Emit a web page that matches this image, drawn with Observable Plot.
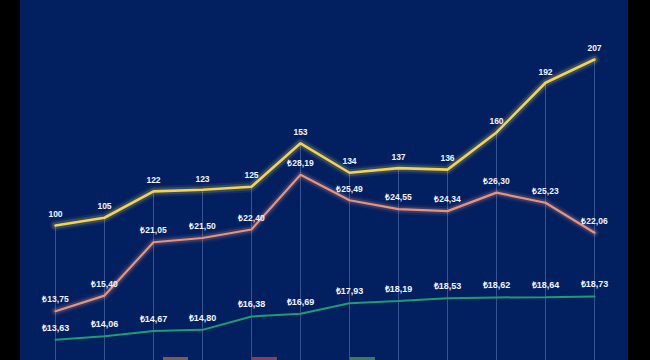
<!DOCTYPE html>
<html><head><meta charset="utf-8">
<script src="https://cdn.jsdelivr.net/npm/d3@7"></script>
<script src="https://cdn.jsdelivr.net/npm/@observablehq/plot@0.6"></script>
<style>
html,body{margin:0;padding:0;background:#000;}
#wrap{position:relative;width:650px;height:360px;overflow:hidden;background:#000;}
#panel{position:absolute;left:20px;top:0;width:608px;height:360px;background:#022060;}
.layer{position:absolute;left:0;top:0;}
#legend{position:absolute;left:0;top:357px;width:650px;height:10px;}
#legend span{position:absolute;top:0;height:6px;width:25px;}
</style></head><body>
<div id="wrap"><div id="panel"></div><div id="legend"></div></div>
<script>
const periods = ["1","2","3","4","5","6","7","8","9","10","11","12"];
const indexValues = [100,105,122,123,125,153,134,137,136,160,192,207];
const orangeValues = [13.75,15.40,21.05,21.50,22.40,28.19,25.49,24.55,24.34,26.30,25.23,22.06];
const greenValues = [13.63,14.06,14.67,14.80,16.38,16.69,17.93,18.19,18.53,18.62,18.64,18.73];
const legendColors = ["#7d5a52","#8a3d55","#3d7a5a"];
const legendLeft = [163,252,350];

const lira = v => "\u20BA" + v.toFixed(2).replace(".", ",");
const wrap = document.getElementById("wrap");

function layer({values, domain, color, glow, width, glowWidth, fmt, fontSize, dy, grid}) {
  const data = periods.map((p, i) => ({p, v: values[i]}));
  const marks = [];
  if (grid) marks.push(Plot.ruleX(data, {x: "p", y1: "v", y2: domain[0], stroke: "#5a76b0", strokeWidth: 0.8, strokeOpacity: 0.75}));
  if (glow) {
    marks.push(Plot.line(data, {x: "p", y: "v", stroke: glow, strokeWidth: glowWidth + 4, strokeOpacity: 0.07, strokeLinejoin: "round"}));
    marks.push(Plot.line(data, {x: "p", y: "v", stroke: glow, strokeWidth: glowWidth, strokeOpacity: 0.16, strokeLinejoin: "round"}));
  }
  marks.push(Plot.line(data, {x: "p", y: "v", stroke: color, strokeWidth: width, strokeLinejoin: "miter"}));
  marks.push(Plot.text(data, {x: "p", y: "v", text: d => fmt(d.v), dy, fill: "#f2f5ff", fontSize, fontWeight: "bold"}));
  const svg = Plot.plot({
    width: 650, height: 360,
    marginLeft: 50, marginRight: 52, marginTop: 0, marginBottom: 0,
    x: {type: "point", domain: periods, padding: 0, axis: null},
    y: {domain, axis: null},
    style: {background: "transparent", fontFamily: "'Liberation Sans', Arial, sans-serif"},
    marks
  });
  svg.classList.add("layer");
  svg.style.position = "absolute";
  svg.style.left = "0px";
  svg.style.top = "0px";
  wrap.appendChild(svg);
}

layer({values: indexValues, domain: [12.98, 245.03], color: "#f1d54c", glow: "#f8e07a", width: 2.6, glowWidth: 7, fmt: v => String(v), fontSize: 8.5, dy: -11, grid: true});
layer({values: orangeValues, domain: [8.53, 46.64], color: "#e8937c", glow: "#f0a08a", width: 2.2, glowWidth: 6, fmt: lira, fontSize: 8.5, dy: -11.5});
layer({values: greenValues, domain: [11.19, 53.59], color: "#1e9c74", glow: null, width: 2, fmt: lira, fontSize: 9, dy: -12});

const legend = document.getElementById("legend");
legendColors.forEach((c, i) => {
  const s = document.createElement("span");
  s.style.left = legendLeft[i] + "px";
  s.style.background = c;
  legend.appendChild(s);
});
</script>
</body></html>
